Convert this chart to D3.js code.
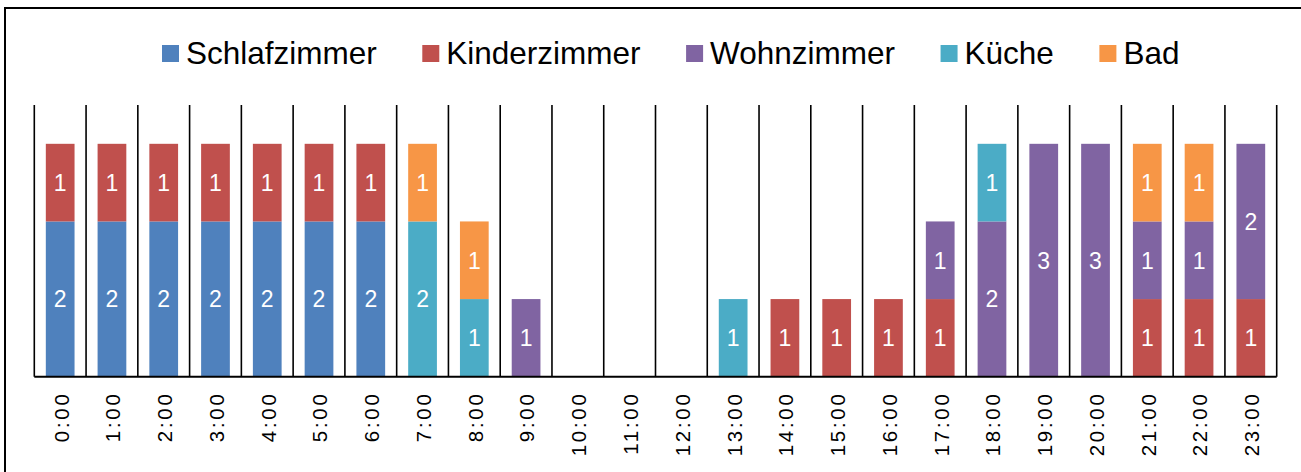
<!DOCTYPE html>
<html>
<head>
<meta charset="utf-8">
<script src="https://cdn.jsdelivr.net/npm/d3@7/dist/d3.min.js"></script>
<style>
  html, body { margin: 0; padding: 0; background: #fff; }
  svg { display: block; font-family: "Liberation Sans", Arial, sans-serif; }
</style>
</head>
<body>
<svg id="chart" width="1301" height="472"></svg>
<script>
// Hours of the day (x categories)
const hours = ["0:00","1:00","2:00","3:00","4:00","5:00","6:00","7:00","8:00","9:00","10:00","11:00",
               "12:00","13:00","14:00","15:00","16:00","17:00","18:00","19:00","20:00","21:00","22:00","23:00"];

// Room names (stack order, bottom to top) and their colours
const rooms = ["Schlafzimmer", "Kinderzimmer", "Wohnzimmer", "Küche", "Bad"];
const roomColors = ["#4F81BD", "#C0504D", "#8064A2", "#4BACC6", "#F79646"];

// Persons per room for each hour
const schlafzimmer = [2,2,2,2,2,2,2,0,0,0,0,0,0,0,0,0,0,0,0,0,0,0,0,0];
const kinderzimmer = [1,1,1,1,1,1,1,0,0,0,0,0,0,0,1,1,1,1,0,0,0,1,1,1];
const wohnzimmer   = [0,0,0,0,0,0,0,0,0,1,0,0,0,0,0,0,0,1,2,3,3,1,1,2];
const kueche       = [0,0,0,0,0,0,0,2,1,0,0,0,0,1,0,0,0,0,1,0,0,0,0,0];
const bad          = [0,0,0,0,0,0,0,1,1,0,0,0,0,0,0,0,0,0,0,0,0,1,1,0];

const seriesValues = [schlafzimmer, kinderzimmer, wohnzimmer, kueche, bad];

const rows = hours.map((h, i) => {
  const r = { hour: h };
  rooms.forEach((room, k) => { r[room] = seriesValues[k][i]; });
  return r;
});

const svg = d3.select("#chart");

// Outer frame
svg.append("rect")
  .attr("x", 5).attr("y", 8)
  .attr("width", 1305).attr("height", 480)
  .attr("fill", "none").attr("stroke", "#000").attr("stroke-width", 2);

const plot = { left: 34.3, right: 1276.7, top: 105, bottom: 376.7 };

const x = d3.scaleBand().domain(hours).range([plot.left, plot.right]).padding(0);
const y = d3.scaleLinear().domain([0, 3.5]).range([plot.bottom, plot.top]);

const stack = d3.stack().keys(rooms)(rows);

const barFrac = 0.555;
const barW = x.bandwidth() * barFrac;
const barOff = (x.bandwidth() - barW) / 2;

// Stacked bars
const layers = svg.append("g").selectAll("g")
  .data(stack).join("g")
  .attr("fill", (d, i) => roomColors[i]);

layers.selectAll("rect")
  .data(d => d.filter(s => s[1] - s[0] > 0))
  .join("rect")
  .attr("x", d => x(d.data.hour) + barOff)
  .attr("width", barW)
  .attr("y", d => y(d[1]))
  .attr("height", d => y(d[0]) - y(d[1]));

// Value labels inside each segment
layers.selectAll("text")
  .data(d => d.filter(s => s[1] - s[0] > 0).map(s => ({ s, key: d.key })))
  .join("text")
  .attr("x", d => x(d.s.data.hour) + x.bandwidth() / 2)
  .attr("y", d => (y(d.s[0]) + y(d.s[1])) / 2)
  .attr("dy", "0.36em")
  .attr("text-anchor", "middle")
  .attr("fill", "#fff")
  .attr("font-size", 23)
  .text(d => d.s.data[d.key]);

// Vertical separators between hours
const edges = hours.map(h => x(h)).concat([plot.right]);
svg.append("g").selectAll("line")
  .data(edges).join("line")
  .attr("x1", d => d).attr("x2", d => d)
  .attr("y1", plot.top).attr("y2", plot.bottom)
  .attr("stroke", "#000").attr("stroke-width", 1.6);

// Category axis
const spacing = 2.7;
const xAxis = svg.append("g")
  .attr("transform", `translate(0,${plot.bottom})`)
  .call(d3.axisBottom(x).tickSize(0).tickPadding(0));
xAxis.select(".domain").attr("stroke", "#000").attr("stroke-width", 2)
  .attr("d", `M${plot.left},0H${plot.right}`);
xAxis.selectAll(".tick text")
  .attr("font-family", "Liberation Sans, Arial, sans-serif")
  .attr("font-size", 20.5)
  .attr("letter-spacing", spacing + "px")
  .attr("fill", "#000")
  .attr("text-anchor", "end")
  .attr("transform", "translate(1,17.5) rotate(-90)")
  .attr("x", spacing)
  .attr("y", 0)
  .attr("dy", "0.36em");

// Legend
const legend = svg.append("g").attr("transform", "translate(162,0)");
let lx = 0;
rooms.forEach((room, i) => {
  const g = legend.append("g").attr("transform", `translate(${lx},0)`);
  g.append("rect").attr("x", 0).attr("y", 45).attr("width", 17).attr("height", 17)
    .attr("fill", roomColors[i]);
  const t = g.append("text").attr("x", 24).attr("y", 63.5)
    .attr("font-size", 31.5).attr("fill", "#000").text(room);
  lx += 24 + t.node().getComputedTextLength() + 45.5;
});
</script>
</body>
</html>
